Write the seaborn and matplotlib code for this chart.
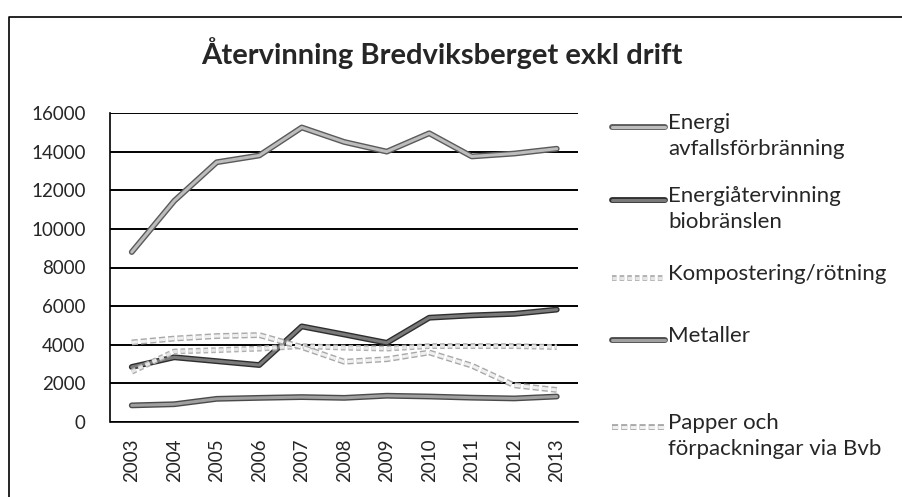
import matplotlib
matplotlib.use("Agg")
import matplotlib.pyplot as plt
import matplotlib.patheffects as pe
from matplotlib.lines import Line2D
import seaborn as sns
import pandas as pd

years = [2003, 2004, 2005, 2006, 2007, 2008, 2009, 2010, 2011, 2012, 2013]
energi_avfall = [8800, 11450, 13450, 13800, 15250, 14500, 14000, 14950, 13750, 13900, 14150]
energi_bio = [2850, 3350, 3150, 2950, 4950, 4530, 4100, 5400, 5520, 5600, 5820]
kompost = [2600, 3650, 3720, 3800, 3930, 3850, 3800, 3930, 3930, 3930, 3880]
metaller = [860, 920, 1200, 1250, 1290, 1250, 1360, 1320, 1260, 1220, 1320]
papper = [4120, 4320, 4450, 4500, 3880, 3120, 3250, 3600, 2920, 1900, 1660]

series_names = ["Energi\navfallsförbränning", "Energiåtervinning\nbiobränslen",
                "Kompostering/rötning", "Metaller", "Papper och\nförpackningar via Bvb"]
series_values = [energi_avfall, energi_bio, kompost, metaller, papper]
yticks = [0, 2000, 4000, 6000, 8000, 10000, 12000, 14000, 16000]
title = "Återvinning Bredviksberget exkl drift"

# (outline colour, inner colour, inner linestyle)
styles = [("#5a5a5a", "#bdbdbd", "-"),
          ("#2e2e2e", "#7a7a7a", "-"),
          ("#b0b0b0", "#e6e6e6", (0, (1.5, 1))),
          ("#4a4a4a", "#a0a0a0", "-"),
          ("#a8a8a8", "#f0f0f0", (0, (2, 1)))]

sns.set_style("white")
plt.rcParams["font.family"] = ["Lato", "DejaVu Sans"]

W, H = 903, 497
fig = plt.figure(figsize=(W / 100, H / 100), dpi=100)
ax = fig.add_axes([110.5 / W, 1 - 422 / H, (578 - 110.5) / W, (422 - 113) / H])

for vals, name, (oc, ic, ls) in zip(series_values, series_names, styles):
    df = pd.DataFrame({"year": years, "value": vals})
    sns.lineplot(data=df, x="year", y="value", ax=ax, color=ic, linewidth=2.2,
                 linestyle=ls, label=None,
                 path_effects=[pe.Stroke(linewidth=4.2, foreground=oc), pe.Normal()])

ax.set_xlim(2002.5, 2013.5)
ax.set_ylim(0, 16000)
ax.set_yticks(yticks)
ax.set_yticklabels([str(v) for v in yticks])
ax.set_xticks(years)
ax.set_xticklabels([str(y) for y in years], rotation=90)
ax.set_xlabel("")
ax.set_ylabel("")
ax.grid(axis="y", color="black", linewidth=1.4)
ax.set_axisbelow(True)
for s in ["top", "right"]:
    ax.spines[s].set_visible(False)
for s in ["left", "bottom"]:
    ax.spines[s].set_color("black")
    ax.spines[s].set_linewidth(1.2)
ax.tick_params(axis="y", length=0, pad=18, labelsize=13.5)
ax.tick_params(axis="x", length=0, pad=12, labelsize=13.5)
if ax.get_legend() is not None:
    ax.get_legend().remove()

fig.text(442 / W, 1 - 53 / H, title, ha="center", va="center",
         fontsize=21, fontweight="bold")

# manual legend
leg_y = [127, 200, 278, 340, 427]
for y, name, (oc, ic, ls) in zip(leg_y, series_names, styles):
    ln = Line2D([612 / W, 665 / W], [1 - y / H, 1 - y / H], transform=fig.transFigure,
                color=ic, linewidth=2.2, linestyle=ls,
                path_effects=[pe.Stroke(linewidth=4.2, foreground=oc), pe.Normal()])
    fig.add_artist(ln)
    fig.text(668 / W, 1 - (y - 14) / H, name, ha="left", va="top",
             fontsize=16, linespacing=1.35)

# outer chart frame
frame = Line2D([9 / W, 9 / W, 1.0], [0.0, 1 - 17 / H, 1 - 17 / H],
               transform=fig.transFigure, color="black", linewidth=1.2)
fig.add_artist(frame)

fig.savefig("out.png", dpi=100)
